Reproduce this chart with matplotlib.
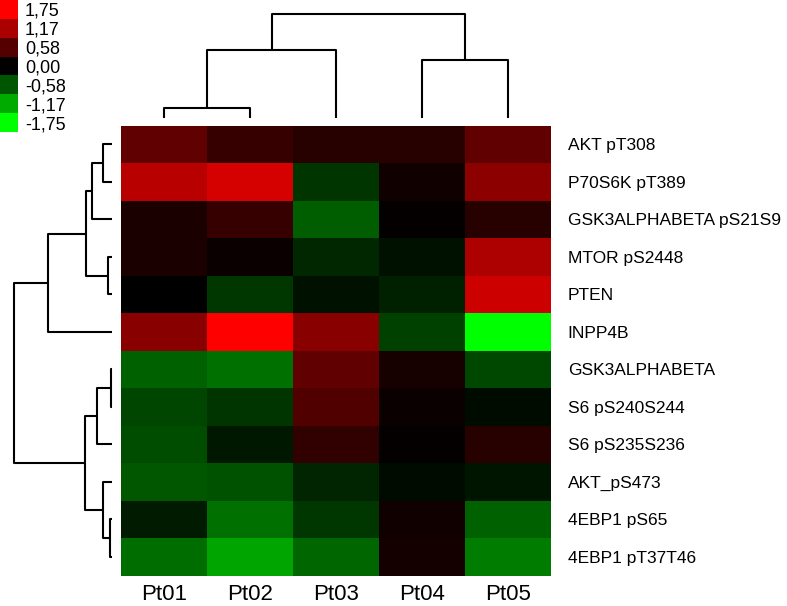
import numpy as np
import matplotlib
matplotlib.use('Agg')
import matplotlib.pyplot as plt
from matplotlib.colors import LinearSegmentedColormap

plt.rcParams['font.family'] = ['Liberation Sans', 'DejaVu Sans']

#data
samples = ['Pt01', 'Pt02', 'Pt03', 'Pt04', 'Pt05']
proteins = ['AKT pT308', 'P70S6K pT389', 'GSK3ALPHABETA pS21S9', 'MTOR pS2448',
            'PTEN', 'INPP4B', 'GSK3ALPHABETA', 'S6 pS240S244', 'S6 pS235S236',
            'AKT_pS473', '4EBP1 pS65', '4EBP1 pT37T46']
values = np.array([
    [ 0.66,  0.38,  0.27,  0.27,  0.66],
    [ 1.26,  1.45, -0.36,  0.11,  0.96],
    [ 0.19,  0.38, -0.63,  0.03,  0.27],
    [ 0.19,  0.08, -0.27, -0.11,  1.18],
    [ 0.00, -0.38, -0.11, -0.22,  1.40],
    [ 0.93,  1.90,  0.93, -0.44, -2.20],
    [-0.66, -0.77,  0.66,  0.16, -0.49],
    [-0.47, -0.36,  0.55,  0.08, -0.08],
    [-0.52, -0.16,  0.33,  0.03,  0.27],
    [-0.60, -0.55, -0.25, -0.08, -0.14],
    [-0.19, -0.77, -0.38,  0.11, -0.66],
    [-0.74, -1.13, -0.71,  0.14, -0.85],
])
legend_values = [1.75, 1.17, 0.58, 0.00, -0.58, -1.17, -1.75]
legend_labels = ['1,75', '1,17', '0,58', '0,00', '-0,58', '-1,17', '-1,75']

#merges (child a, child b, height) in display order
row_merges = [(0, 1, 9), (12, 2, 20), (3, 4, 4), (13, 14, 26), (15, 5, 64),
              (6, 7, 1), (17, 8, 15), (10, 11, 2), (9, 19, 9), (18, 20, 27),
              (16, 21, 98)]
col_merges = [(0, 1, 10), (5, 2, 68), (3, 4, 58), (6, 7, 104)]

cmap = LinearSegmentedColormap.from_list('gkr', [(0, 1, 0), (0, 0, 0), (1, 0, 0)])
vmin, vmax = -1.75, 1.75


def draw_dendro(ax, merges, n, orient):
    pos = {i: i + 0.5 for i in range(n)}
    hgt = {i: 0.0 for i in range(n)}
    for k, (a, b, h) in enumerate(merges):
        xs = [pos[a], pos[a], pos[b], pos[b]]
        ys = [hgt[a], h, h, hgt[b]]
        if orient == 'top':
            ax.plot(xs, ys, color='black', lw=1.5, clip_on=False, solid_capstyle='butt')
        else:
            ax.plot(ys, xs, color='black', lw=1.5, clip_on=False, solid_capstyle='butt')
        pos[n + k] = (pos[a] + pos[b]) / 2
        hgt[n + k] = h


W, H = 787, 606
fig = plt.figure(figsize=(W / 100, H / 100), dpi=100)

#heatmap
ax = fig.add_axes([121 / W, 1 - 575.7 / H, 430 / W, 450 / H])
ax.pcolormesh(np.arange(6), np.arange(13), values, cmap=cmap, vmin=vmin, vmax=vmax)
ax.set_xlim(0, 5)
ax.set_ylim(12, 0)
ax.set_xticks(np.arange(5) + 0.5)
ax.set_xticklabels(samples, fontsize=16)
ax.set_yticks(np.arange(12) + 0.5)
ax.set_yticklabels(proteins, fontsize=12.5)
ax.yaxis.tick_right()
ax.tick_params(axis='x', length=0, pad=6)
ax.tick_params(axis='y', length=0, pad=12)
for s in ax.spines.values():
    s.set_visible(False)

#column dendrogram
axc = fig.add_axes([121 / W, 1 - 118 / H, 430 / W, 118 / H])
draw_dendro(axc, col_merges, 5, 'top')
axc.set_xlim(0, 5)
axc.set_ylim(0, 118)
axc.axis('off')

#row dendrogram
axr = fig.add_axes([0, 1 - 575.7 / H, 112 / W, 450 / H])
draw_dendro(axr, row_merges, 12, 'left')
axr.set_xlim(112, 0)
axr.set_ylim(12, 0)
axr.axis('off')

#colour key
axl = fig.add_axes([0, 1 - 132 / H, 18 / W, 132 / H])
axl.imshow(np.array(legend_values).reshape(-1, 1), cmap=cmap, vmin=vmin, vmax=vmax,
           aspect='auto', extent=(0, 1, 7, 0))
axl.set_xticks([])
axl.set_yticks(np.arange(7) + 0.5)
axl.set_yticklabels(legend_labels, fontsize=13)
axl.yaxis.tick_right()
axl.tick_params(axis='y', length=0, pad=5)
for s in axl.spines.values():
    s.set_visible(False)

fig.savefig('out.png', dpi=100)
